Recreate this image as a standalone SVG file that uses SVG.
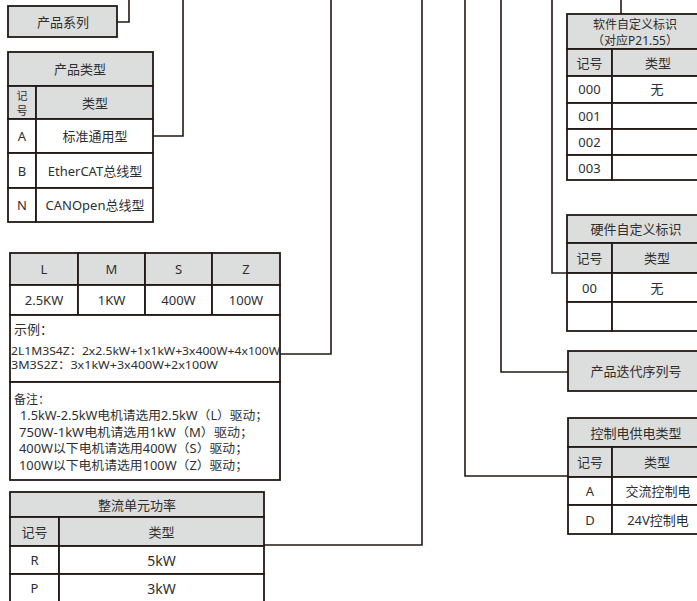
<svg xmlns="http://www.w3.org/2000/svg" width="697" height="601" viewBox="0 0 697 601">
<style>
.g{fill:#dcdddd;stroke:#231815;stroke-width:1.8}
.w{fill:#ffffff;stroke:#231815;stroke-width:1.8}
.c{fill:none;stroke:#231815;stroke-width:1.6}
text{font-family:"Noto Sans","Noto Sans CJK SC",sans-serif;font-size:13px;fill:#2f2f2f}
.m{text-anchor:middle;dominant-baseline:central}
.l{dominant-baseline:central}
.s{font-size:11.5px}
.t{font-size:12px}
.v{font-size:11px}
</style>
<rect width="697" height="601" fill="#fff"/>
<g id="connectors">
<polyline class="c" points="117,22 129,22 129,0"/>
<polyline class="c" points="153,136 183,136 183,0"/>
<polyline class="c" points="280,354 331,354 331,0"/>
<polyline class="c" points="264,545 422,545 422,0"/>
<polyline class="c" points="568,476 465,476 465,0"/>
<polyline class="c" points="568,372 501,372 501,0"/>
<polyline class="c" points="567,273 552,273 552,0"/>
<polyline class="c" points="621,14 621,0"/>
</g>
<g id="series">
<rect class="g" x="8" y="6" width="109" height="31"/>
<text class="m" x="63" y="21.5">产品系列</text>
</g>
<g id="product-type">
<rect class="g" x="8" y="52" width="145" height="34"/>
<text class="m" x="80" y="69">产品类型</text>
<rect class="g" x="8" y="86" width="28" height="33"/>
<rect class="g" x="36" y="86" width="117" height="33"/>
<text class="m v" x="22" y="95">记</text>
<text class="m v" x="22" y="110.5">号</text>
<text class="m" x="95" y="102.5">类型</text>
<rect class="w" x="8" y="119" width="28" height="34"/>
<rect class="w" x="36" y="119" width="117" height="34"/>
<text class="m" x="22" y="136">A</text>
<text class="m" x="95" y="136">标准通用型</text>
<rect class="w" x="8" y="153" width="28" height="35"/>
<rect class="w" x="36" y="153" width="117" height="35"/>
<text class="m" x="22" y="170.5">B</text>
<text class="m" x="95" y="170.5">EtherCAT总线型</text>
<rect class="w" x="8" y="188" width="28" height="34"/>
<rect class="w" x="36" y="188" width="117" height="34"/>
<text class="m" x="22" y="205">N</text>
<text class="m" x="95" y="205">CANOpen总线型</text>
</g>
<g id="power-config">
<rect class="g" x="10" y="253" width="68" height="32"/>
<rect class="g" x="78" y="253" width="67" height="32"/>
<rect class="g" x="145" y="253" width="67" height="32"/>
<rect class="g" x="212" y="253" width="68" height="32"/>
<text class="m" x="44" y="269">L</text>
<text class="m" x="111.5" y="269">M</text>
<text class="m" x="178.5" y="269">S</text>
<text class="m" x="246" y="269">Z</text>
<rect class="w" x="10" y="285" width="68" height="30"/>
<rect class="w" x="78" y="285" width="67" height="30"/>
<rect class="w" x="145" y="285" width="67" height="30"/>
<rect class="w" x="212" y="285" width="68" height="30"/>
<text class="m" x="44" y="300">2.5KW</text>
<text class="m" x="111.5" y="300">1KW</text>
<text class="m" x="178.5" y="300">400W</text>
<text class="m" x="246" y="300">100W</text>
<rect class="w" x="10" y="315" width="270" height="67"/>
<text class="l" x="14" y="329">示例：</text>
<text class="l s" x="11" y="350" textLength="269" lengthAdjust="spacingAndGlyphs">2L1M3S4Z：2x2.5kW+1x1kW+3x400W+4x100W</text>
<text class="l s" x="11" y="364.5" textLength="207" lengthAdjust="spacingAndGlyphs">3M3S2Z：3x1kW+3x400W+2x100W</text>
<rect class="w" x="10" y="382" width="270" height="98"/>
<text class="l t" x="14" y="399">备注：</text>
<text class="l t" x="20" y="415.5" textLength="248" lengthAdjust="spacingAndGlyphs">1.5kW-2.5kW电机请选用2.5kW（L）驱动；</text>
<text class="l t" x="19" y="432" textLength="234" lengthAdjust="spacingAndGlyphs">750W-1kW电机请选用1kW（M）驱动；</text>
<text class="l t" x="19" y="448.5" textLength="229" lengthAdjust="spacingAndGlyphs">400W以下电机请选用400W（S）驱动；</text>
<text class="l t" x="19" y="465" textLength="229" lengthAdjust="spacingAndGlyphs">100W以下电机请选用100W（Z）驱动；</text>
</g>
<g id="rectifier">
<rect class="g" x="10" y="492" width="254" height="25"/>
<text class="m" x="137" y="505">整流单元功率</text>
<rect class="g" x="10" y="517" width="49" height="29"/>
<rect class="g" x="59" y="517" width="205" height="29"/>
<text class="m" x="34.5" y="532">记号</text>
<text class="m" x="161.5" y="532">类型</text>
<rect class="w" x="10" y="546" width="49" height="28"/>
<rect class="w" x="59" y="546" width="205" height="28"/>
<text class="m" x="34.5" y="560">R</text>
<text class="m" x="161.5" y="560" style="font-size:14px">5kW</text>
<rect class="w" x="10" y="574" width="49" height="30"/>
<rect class="w" x="59" y="574" width="205" height="30"/>
<text class="m" x="34.5" y="588">P</text>
<text class="m" x="161.5" y="588" style="font-size:14px">3kW</text>
</g>
<g id="software-id">
<rect class="g" x="567" y="14" width="138" height="35"/>
<text class="m t" x="635" y="24">软件自定义标识</text>
<text class="m t" x="635" y="40">（对应P21.55）</text>
<rect class="g" x="567" y="49" width="45" height="27"/>
<rect class="g" x="612" y="49" width="93" height="27"/>
<text class="m" x="589.5" y="62.5">记号</text>
<text class="m" x="658" y="62.5">类型</text>
<rect class="w" x="567" y="76" width="45" height="27"/>
<rect class="w" x="612" y="76" width="93" height="27"/>
<text class="m" x="589.5" y="89">000</text>
<text class="m" x="657" y="89">无</text>
<rect class="w" x="567" y="103" width="45" height="26"/>
<rect class="w" x="612" y="103" width="93" height="26"/>
<text class="m" x="589.5" y="116">001</text>
<rect class="w" x="567" y="129" width="45" height="26"/>
<rect class="w" x="612" y="129" width="93" height="26"/>
<text class="m" x="589.5" y="142">002</text>
<rect class="w" x="567" y="155" width="45" height="25"/>
<rect class="w" x="612" y="155" width="93" height="25"/>
<text class="m" x="589.5" y="167.5">003</text>
</g>
<g id="hardware-id">
<rect class="g" x="567" y="215" width="138" height="28"/>
<text class="m" x="636" y="229">硬件自定义标识</text>
<rect class="g" x="567" y="243" width="45" height="30"/>
<rect class="g" x="612" y="243" width="93" height="30"/>
<text class="m" x="589.5" y="258">记号</text>
<text class="m" x="657" y="258">类型</text>
<rect class="w" x="567" y="273" width="45" height="29"/>
<rect class="w" x="612" y="273" width="93" height="29"/>
<text class="m" x="589.5" y="287.5">00</text>
<text class="m" x="657" y="287.5">无</text>
<rect class="w" x="567" y="302" width="45" height="29"/>
<rect class="w" x="612" y="302" width="93" height="29"/>
</g>
<g id="iteration">
<rect class="g" x="568" y="351" width="137" height="40"/>
<text class="m" x="636" y="371">产品迭代序列号</text>
</g>
<g id="control-power">
<rect class="g" x="568" y="418" width="137" height="29"/>
<text class="m" x="636" y="432.5">控制电供电类型</text>
<rect class="g" x="568" y="447" width="44" height="30"/>
<rect class="g" x="612" y="447" width="93" height="30"/>
<text class="m" x="590" y="462">记号</text>
<text class="m" x="657" y="462">类型</text>
<rect class="w" x="568" y="477" width="44" height="28"/>
<rect class="w" x="612" y="477" width="93" height="28"/>
<text class="m" x="590" y="491">A</text>
<text class="m" x="658" y="491">交流控制电</text>
<rect class="w" x="568" y="505" width="44" height="29"/>
<rect class="w" x="612" y="505" width="93" height="29"/>
<text class="m" x="590" y="519.5">D</text>
<text class="m" x="658" y="519.5">24V控制电</text>
</g>
</svg>
